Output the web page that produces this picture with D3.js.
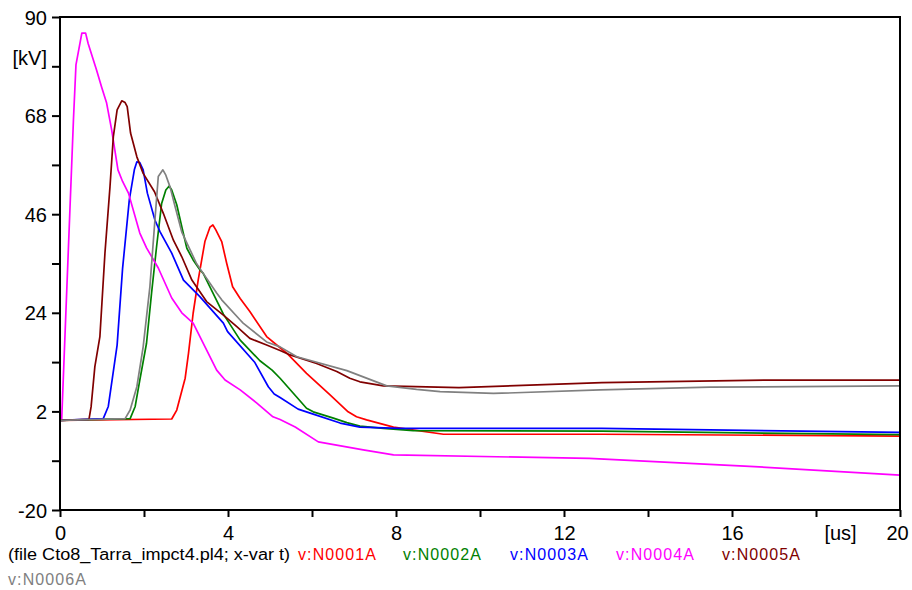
<!DOCTYPE html>
<html>
<head>
<meta charset="utf-8">
<script src="https://cdn.jsdelivr.net/npm/d3@7/dist/d3.min.js"></script>
<style>
  html, body { margin: 0; padding: 0; background: #fff; }
  svg { display: block; font-family: "Liberation Sans", Arial, sans-serif; }
</style>
</head>
<body>
<svg id="chart" width="912" height="590"></svg>
<script>
// ---- data (time in us, voltage in kV) ----
const xTicks = [0, 2, 4, 6, 8, 10, 12, 14, 16, 18, 20];
const xTickLabels = ["0", "", "4", "", "8", "", "12", "", "16", "[us]", "20"];
const yTicks = [-20, -9, 2, 13, 24, 35, 46, 57, 68, 79, 90];
const yTickLabels = ["-20", "", "2", "", "24", "", "46", "", "68", "[kV]", "90"];

const seriesNames = ["v:N0001A", "v:N0002A", "v:N0003A", "v:N0004A", "v:N0005A", "v:N0006A"];
const seriesColors = ["#ff0000", "#008000", "#0000ff", "#ff00ff", "#800000", "#808080"];
const fileLabel = "(file Cto8_Tarra_impct4.pl4; x-var t)";

const n0001 = [[0,0],[2.66,0.3],[2.78,2.3],[2.98,9.4],[3.06,15.0],[3.17,23.9],[3.29,31.3],[3.45,39.9],[3.57,43.1],[3.64,43.6],[3.71,42.5],[3.85,39.9],[3.97,35.0],[4.11,29.8],[4.29,27.2],[4.52,24.3],[4.92,18.7],[5.24,16.2],[5.40,15.0],[5.87,10.5],[6.43,5.7],[6.86,1.9],[7.06,0.8],[7.30,0.1],[7.94,-1.5],[9.13,-3.1],[12.9,-3.1],[20,-3.5]];
const n0002 = [[0,0],[1.67,0.4],[1.79,3.1],[1.90,9.0],[2.06,17.2],[2.18,28.4],[2.30,38.8],[2.42,48.4],[2.52,51.4],[2.60,52.3],[2.66,51.4],[2.78,48.1],[2.90,43.2],[3.02,38.4],[3.17,35.8],[3.33,33.6],[3.41,32.8],[3.89,23.7],[4.29,17.9],[4.76,13.3],[5.05,11.2],[5.24,9.4],[5.87,2.7],[6.03,1.9],[6.51,0.5],[6.83,-0.5],[7.14,-1.3],[7.70,-1.8],[8.41,-2.3],[12.9,-2.4],[20,-3.2]];
const n0003 = [[0,0],[1.03,0.4],[1.15,3.1],[1.36,16.8],[1.49,33.9],[1.65,49.2],[1.77,55.9],[1.83,57.7],[1.90,57.5],[1.98,55.9],[2.08,50.7],[2.26,44.7],[2.38,42.1],[2.66,37.3],[2.94,31.3],[3.33,27.6],[3.89,21.7],[3.99,19.8],[4.64,12.9],[4.96,7.5],[5.10,5.9],[5.24,5.1],[5.67,2.5],[6.03,1.4],[6.67,-0.6],[7.14,-1.5],[8.10,-1.8],[12.9,-1.8],[20,-2.7]];
const n0004 = [[0,0],[0.04,0.2],[0.32,67.0],[0.38,79.3],[0.52,86.4],[0.61,86.4],[0.67,84.1],[0.87,78.2],[0.99,74.4],[1.11,70.8],[1.23,64.8],[1.38,55.9],[1.49,53.3],[1.63,50.7],[1.90,41.8],[2.06,38.5],[2.34,34.0],[2.66,27.3],[2.90,24.0],[3.17,21.7],[3.73,11.2],[3.93,9.0],[4.29,6.8],[4.68,3.9],[5.07,0.8],[5.24,0.2],[5.60,-1.5],[6.15,-4.8],[7.22,-6.6],[7.94,-7.7],[12.6,-8.5],[16.3,-10.2],[20,-12.2]];
const n0005 = [[0,0],[0.69,0.2],[0.74,3.0],[0.83,12.0],[0.95,18.7],[1.07,37.3],[1.19,52.1],[1.27,63.3],[1.36,69.3],[1.47,71.3],[1.55,70.9],[1.60,70.0],[1.68,64.1],[1.83,58.8],[1.98,55.1],[2.25,51.0],[2.46,46.2],[2.70,40.2],[2.90,36.5],[3.14,31.3],[3.49,26.5],[3.89,23.5],[4.21,20.9],[4.52,18.3],[4.92,16.8],[5.24,15.6],[5.48,14.6],[6.11,12.7],[6.59,10.9],[6.90,9.4],[7.14,8.6],[7.70,7.7],[9.5,7.3],[12.9,8.4],[16.9,9.0],[20,9.0]];
const n0006 = [[0,0],[1.55,0.4],[1.67,2.3],[1.83,7.5],[1.98,16.4],[2.14,29.8],[2.26,44.7],[2.34,54.4],[2.45,55.9],[2.52,54.7],[2.62,52.1],[2.74,47.7],[2.90,42.0],[3.10,38.0],[3.25,35.0],[3.41,32.8],[3.73,28.4],[3.85,26.9],[4.29,22.4],[4.36,21.7],[4.92,17.5],[5.24,16.4],[5.64,14.2],[6.83,11.1],[7.78,7.7],[8.49,6.9],[9.05,6.4],[10.32,6.0],[12.86,6.8],[15.48,7.4],[20,7.7]];

const seriesData = [n0001, n0002, n0003, n0004, n0005, n0006];

// ---- layout ----
const svg = d3.select("#chart");
const padL = 60, padR = 900, padT = 17, padB = 510;

const x = d3.scaleLinear().domain([0, 20]).range([padL, padR]);
const y = d3.scaleLinear().domain([-20, 90]).range([padB, padT]);

// series
const line = d3.line().x(d => x(d[0])).y(d => y(d[1]));
const g = svg.append("g");
seriesData.forEach((s, i) => {
  g.append("path")
    .datum(s)
    .attr("d", line)
    .attr("fill", "none")
    .attr("stroke", seriesColors[i])
    .attr("stroke-width", 1.7)
    .attr("stroke-linejoin", "round");
});

// frame
svg.append("rect")
  .attr("x", padL).attr("y", padT)
  .attr("width", padR - padL).attr("height", padB - padT)
  .attr("fill", "none").attr("stroke", "#000").attr("stroke-width", 2);

// y axis
const yAxis = d3.axisLeft(y).tickValues(yTicks).tickSize(8).tickPadding(5)
  .tickFormat((d, i) => yTickLabels[i]);
const ya = svg.append("g").attr("transform", `translate(${padL},0)`).call(yAxis);
ya.select(".domain").remove();
ya.selectAll(".tick line").attr("stroke", "#000").attr("stroke-width", 2);
ya.selectAll(".tick text")
  .attr("font-size", 20).attr("fill", "#000")
  .attr("font-family", "'Liberation Sans', Arial, sans-serif")
  .attr("x", -13)
  .attr("dy", (d, i) => yTickLabels[i] === "[kV]" ? "-0.1em" : "0.35em");

// x axis
const xAxis = d3.axisBottom(x).tickValues(xTicks).tickSize(7).tickPadding(10)
  .tickFormat((d, i) => xTickLabels[i]);
const xa = svg.append("g").attr("transform", `translate(0,${padB})`).call(xAxis);
xa.select(".domain").remove();
xa.selectAll(".tick line").attr("stroke", "#000").attr("stroke-width", 2);
xa.selectAll(".tick text")
  .attr("font-size", 20).attr("fill", "#000")
  .attr("font-family", "'Liberation Sans', Arial, sans-serif")
  .attr("y", 16).attr("dy", "0.71em")
  .attr("dx", (d, i) => xTickLabels[i] === "[us]" ? 24 : (d === 20 ? -3 : 0));

// legend
const leg = svg.append("g").attr("font-size", 16)
  .attr("font-family", "'Liberation Sans', Arial, sans-serif");
leg.append("text").attr("x", 8).attr("y", 560).attr("fill", "#000")
  .attr("textLength", 282).attr("lengthAdjust", "spacingAndGlyphs").text(fileLabel);
const legPos = [[298, 560], [403, 560], [510, 560], [616, 560], [722, 560], [8, 585]];
seriesNames.forEach((n, i) => {
  leg.append("text").attr("x", legPos[i][0]).attr("y", legPos[i][1])
    .attr("fill", seriesColors[i])
    .attr("textLength", 78).attr("lengthAdjust", "spacing").text(n);
});
</script>
</body>
</html>
